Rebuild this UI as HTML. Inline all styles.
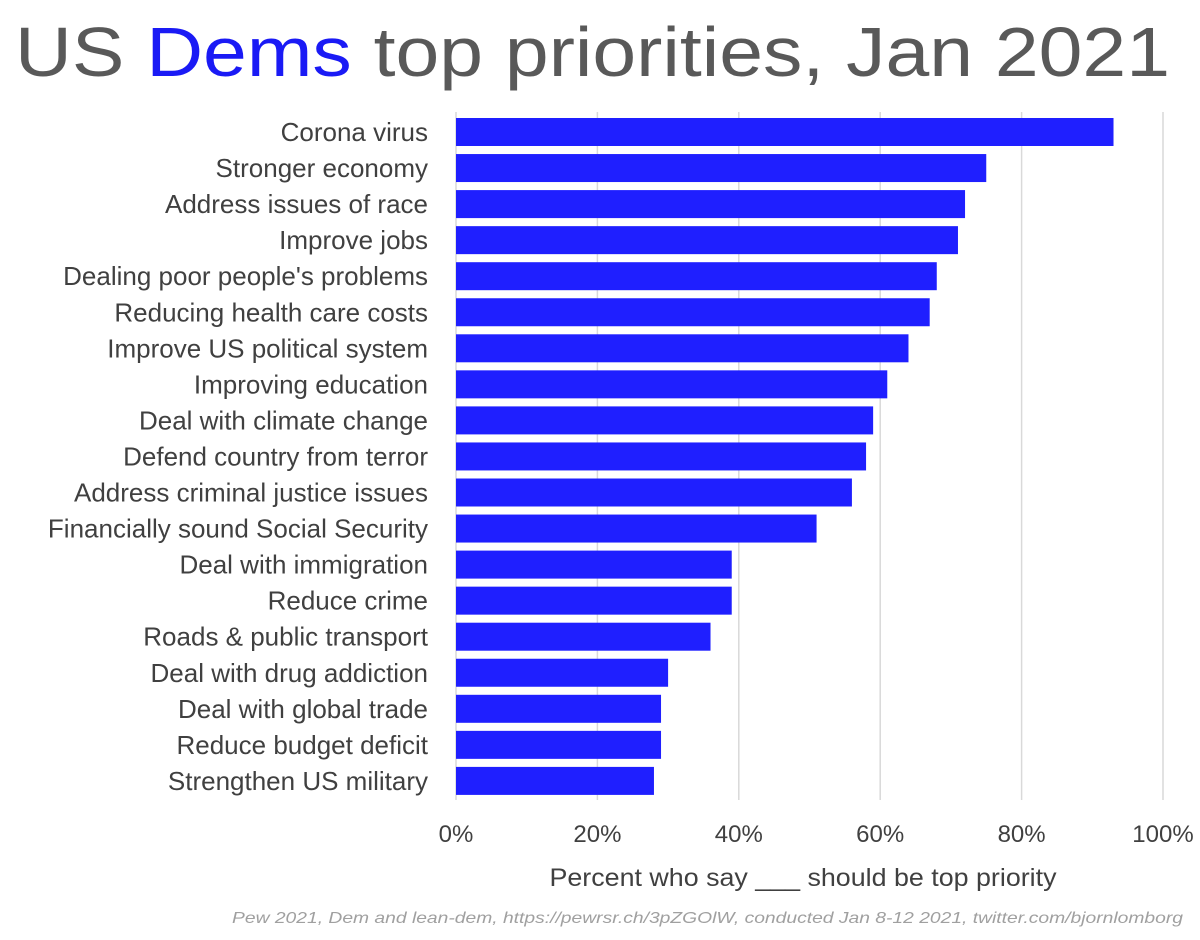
<!DOCTYPE html>
<html><head><meta charset="utf-8"><style>
body{margin:0;background:#fff}
svg{display:block;font-family:"Liberation Sans",sans-serif}
</style></head><body>
<svg id="chart" width="1200" height="940" viewBox="0 0 1200 940">
<text x="15" y="76" font-size="70" fill="#595959" textLength="1155" lengthAdjust="spacingAndGlyphs">US <tspan fill="#1a1af5">Dems</tspan> top priorities, Jan 2021</text>
<g id="grid"></g>
<g id="bars"></g>
<g id="labels"></g>
<g id="ticks"></g>
<text x="803" y="886" font-size="25" fill="#404040" text-anchor="middle" textLength="507" lengthAdjust="spacingAndGlyphs">Percent who say ___ should be top priority</text>
<text x="232" y="923" font-size="16" font-style="italic" fill="#a0a0a0" textLength="951" lengthAdjust="spacingAndGlyphs">Pew 2021, Dem and lean-dem, https://pewrsr.ch/3pZGOlW, conducted Jan 8-12 2021, twitter.com/bjornlomborg</text>
</svg>
<script>
const categories = ["Corona virus","Stronger economy","Address issues of race","Improve jobs","Dealing poor people's problems","Reducing health care costs","Improve US political system","Improving education","Deal with climate change","Defend country from terror","Address criminal justice issues","Financially sound Social Security","Deal with immigration","Reduce crime","Roads & public transport","Deal with drug addiction","Deal with global trade ","Reduce budget deficit","Strengthen US military"];
const values = [93,75,72,71,68,67,64,61,59,58,56,51,39,39,36,30,29,29,28];
const tickValues = [0,20,40,60,80,100];
const tickLabels = ["0%","20%","40%","60%","80%","100%"];

const NS = "http://www.w3.org/2000/svg";
const x0 = 456, x1 = 1163;
const xScale = v => x0 + (x1 - x0) * v / 100;
const rowTop = 114, pitch = 36.05, barH = 28;
const yScale = i => rowTop + i * pitch;
function mk(tag, attrs, parent){const e=document.createElementNS(NS,tag);for(const k in attrs)e.setAttribute(k,attrs[k]);parent.appendChild(e);return e;}

const grid = document.getElementById('grid'), ticks = document.getElementById('ticks');
tickValues.forEach((t,i)=>{
  const l = mk('line',{x1:xScale(t),x2:xScale(t),y1:112,y2:800,stroke:'#d9d9d9','stroke-width':1.5},grid);
  
  
  const tx = mk('text',{x:xScale(t),y:842,'font-size':24,fill:'#404040','text-anchor':'middle'},ticks);
  tx.textContent = tickLabels[i];
  
  
});
const bars = document.getElementById('bars'), labels = document.getElementById('labels');
categories.forEach((c,i)=>{
  const y = yScale(i);
  const r = mk('rect',{x:x0,y:y+4,width:xScale(values[i])-x0,height:barH,fill:'#1f1fff'},bars);
  
  
  const t = mk('text',{x:428,y:y+27,'font-size':26,fill:'#404040','text-anchor':'end'},labels);
  t.textContent = c;
  
  
});
</script>
</body></html>
